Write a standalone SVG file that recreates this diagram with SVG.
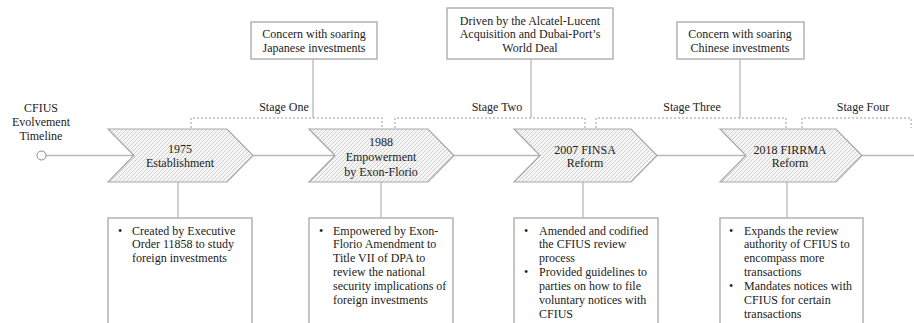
<svg xmlns="http://www.w3.org/2000/svg" width="914" height="323" viewBox="0 0 914 323" font-family="Liberation Serif, DejaVu Serif, serif" font-size="12">
<defs>
<pattern id="hatch" patternUnits="userSpaceOnUse" width="4" height="4">
<rect width="4" height="4" fill="#f5f5f5"/>
<path d="M-1,1 L1,-1 M0,4 L4,0 M3,5 L5,3" stroke="#c9c9c9" stroke-width="0.8"/>
</pattern>
<style>
text{font-family:'Liberation Serif','DejaVu Serif',serif;font-size:12px;fill:#222}
.c{text-anchor:middle}
.chev{fill:url(#hatch);stroke:#a8a8a8;stroke-width:1.2}
.box{fill:#fff;stroke:#b3b3b3;stroke-width:1.5}
.ln{stroke:#b8b8b8;stroke-width:1.3;fill:none}
.dash{stroke:#9a9a9a;stroke-width:1;fill:none;stroke-dasharray:2 2}
</style>
</defs>
<rect width="914" height="323" fill="#fff"/>

<g id="connectors">
<line class="ln" x1="46" y1="155.5" x2="134" y2="155.5"/>
<line class="ln" x1="253" y1="155.5" x2="335" y2="155.5"/>
<line class="ln" x1="454" y1="155.5" x2="540" y2="155.5"/>
<line class="ln" x1="657" y1="155.5" x2="746" y2="155.5"/>
<line class="ln" x1="862" y1="155.5" x2="914" y2="155.5"/>
<line class="ln" x1="178" y1="182" x2="178" y2="218"/>
<line class="ln" x1="381" y1="182" x2="381" y2="218"/>
<line class="ln" x1="583" y1="182" x2="583" y2="218"/>
<line class="ln" x1="787" y1="182" x2="787" y2="218"/>
<line class="ln" x1="313" y1="59" x2="313" y2="118"/>
<line class="ln" x1="531" y1="59" x2="531" y2="118"/>
<line class="ln" x1="740" y1="59" x2="740" y2="118"/>
<path class="dash" d="M191,128 V118 H382 V128"/>
<path class="dash" d="M395,128 V118 H585 V128"/>
<path class="dash" d="M596,128 V118 H786 V128"/>
<path class="dash" d="M802,128 V118 H911 V128"/>
</g>

<g id="start">
<circle cx="41.5" cy="155.5" r="4.5" fill="#fff" stroke="#888" stroke-width="1"/>
<text class="c" x="41" y="112">CFIUS</text>
<text class="c" x="41" y="126">Evolvement</text>
<text class="c" x="41" y="140">Timeline</text>
</g>

<g id="stage-labels">
<text class="c" x="284" y="111">Stage One</text>
<text class="c" x="497" y="111">Stage Two</text>
<text class="c" x="692" y="111">Stage Three</text>
<text class="c" x="863" y="111">Stage Four</text>
</g>

<g id="cause1">
<rect class="box" x="251" y="22" width="126" height="37"/>
<text class="c" x="314" y="38">Concern with soaring</text>
<text class="c" x="314" y="52">Japanese investments</text>
</g>
<g id="cause2">
<rect class="box" x="447" y="8" width="166" height="51"/>
<text class="c" x="530" y="25">Driven by the Alcatel-Lucent</text>
<text class="c" x="530" y="38">Acquisition and Dubai-Port’s</text>
<text class="c" x="530" y="52">World Deal</text>
</g>
<g id="cause3">
<rect class="box" x="677" y="22" width="127" height="37"/>
<text class="c" x="740" y="38">Concern with soaring</text>
<text class="c" x="740" y="52">Chinese investments</text>
</g>

<g id="m1975">
<polygon class="chev" points="108,129 227,129 253,155.5 227,182 108,182 134,155.5"/>
<text class="c" x="180" y="153">1975</text>
<text class="c" x="180" y="167">Establishment</text>
</g>
<g id="m1988">
<polygon class="chev" points="309,129 428,129 454,155.5 428,182 309,182 335,155.5"/>
<text class="c" x="381" y="146">1988</text>
<text class="c" x="381" y="161">Empowerment</text>
<text class="c" x="381" y="176">by Exon-Florio</text>
</g>
<g id="m2007">
<polygon class="chev" points="514,129 631,129 657,155.5 631,182 514,182 540,155.5"/>
<text class="c" x="585" y="154">2007 FINSA</text>
<text class="c" x="585" y="167">Reform</text>
</g>
<g id="m2018">
<polygon class="chev" points="720,129 836,129 862,155.5 836,182 720,182 746,155.5"/>
<text class="c" x="790" y="154">2018 FIRRMA</text>
<text class="c" x="790" y="167">Reform</text>
</g>

<g id="d1975">
<path class="box" d="M108,330 V218 H252 V330"/>
<text x="118" y="235">•</text>
<text x="132" y="235">Created by Executive</text>
<text x="132" y="248">Order 11858 to study</text>
<text x="132" y="262">foreign investments</text>
</g>
<g id="d1988">
<path class="box" d="M309,330 V218 H453 V330"/>
<text x="319" y="235">•</text>
<text x="333" y="235">Empowered by Exon-</text>
<text x="333" y="248">Florio Amendment to</text>
<text x="333" y="262">Title VII of DPA to</text>
<text x="333" y="276">review the national</text>
<text x="333" y="290">security implications of</text>
<text x="333" y="304">foreign investments</text>
</g>
<g id="d2007">
<path class="box" d="M514,330 V218 H658 V330"/>
<text x="524" y="235">•</text>
<text x="539" y="235">Amended and codified</text>
<text x="539" y="248">the CFIUS review</text>
<text x="539" y="262">process</text>
<text x="524" y="276">•</text>
<text x="539" y="276">Provided guidelines to</text>
<text x="539" y="290">parties on how to file</text>
<text x="539" y="304">voluntary notices with</text>
<text x="539" y="318">CFIUS</text>
</g>
<g id="d2018">
<path class="box" d="M720,330 V218 H863 V330"/>
<text x="729" y="235">•</text>
<text x="744" y="235">Expands the review</text>
<text x="744" y="248">authority of CFIUS to</text>
<text x="744" y="262">encompass more</text>
<text x="744" y="276">transactions</text>
<text x="729" y="290">•</text>
<text x="744" y="290">Mandates notices with</text>
<text x="744" y="304">CFIUS for certain</text>
<text x="744" y="318">transactions</text>
</g>
</svg>
